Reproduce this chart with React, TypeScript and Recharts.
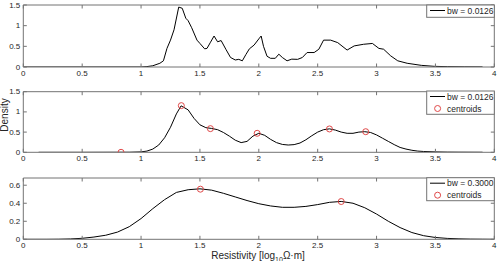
import React from 'react';
import { ComposedChart, Line, Scatter, XAxis, YAxis } from 'recharts';

// ---------- data ----------
const xTicks = [0, 0.5, 1, 1.5, 2, 2.5, 3, 3.5, 4];
const yTicksTop = [0, 0.5, 1, 1.5];
const yTicksMid = [0, 0.5, 1, 1.5];
const yTicksBot = [0, 0.2, 0.4, 0.6];

const legendTop = 'bw = 0.0126';
const legendMid = 'bw = 0.0126';
const legendBot = 'bw = 0.3000';
const centroidLabel = 'centroids';

// panel 1: raw KDE, bw = 0.0126
const kde1X = [0, 1.0, 1.05, 1.1, 1.16, 1.19, 1.22, 1.25, 1.28, 1.32, 1.35, 1.38, 1.4, 1.43, 1.475, 1.5, 1.54, 1.56, 1.59, 1.62, 1.65, 1.68, 1.72, 1.76, 1.8, 1.83, 1.86, 1.89, 1.92, 1.96, 2.0, 2.02, 2.04, 2.07, 2.1, 2.14, 2.17, 2.2, 2.24, 2.28, 2.33, 2.37, 2.41, 2.47, 2.51, 2.55, 2.61, 2.67, 2.75, 2.81, 2.89, 2.965, 3.02, 3.06, 3.12, 3.18, 3.26, 3.38, 3.49, 3.6, 3.75, 3.9];
const kde1Y = [0, 0, 0.01, 0.03, 0.09, 0.15, 0.45, 0.65, 0.9, 1.45, 1.42, 1.18, 1.12, 0.95, 0.65, 0.57, 0.44, 0.45, 0.6, 0.75, 0.61, 0.64, 0.43, 0.23, 0.17, 0.185, 0.15, 0.3, 0.44, 0.53, 0.68, 0.75, 0.5, 0.26, 0.21, 0.21, 0.31, 0.23, 0.15, 0.19, 0.185, 0.23, 0.35, 0.35, 0.43, 0.65, 0.65, 0.59, 0.41, 0.51, 0.55, 0.57, 0.45, 0.43, 0.27, 0.15, 0.09, 0.04, 0.016, 0.008, 0.004, 0.002];

// panel 2: smoothed KDE
const kde2X = [0.13, 0.5, 0.9, 1.0, 1.05, 1.1, 1.15, 1.2, 1.25, 1.3, 1.34, 1.4, 1.45, 1.5, 1.55, 1.6, 1.65, 1.7, 1.75, 1.8, 1.85, 1.9, 1.95, 2.0, 2.05, 2.1, 2.15, 2.2, 2.25, 2.3, 2.35, 2.4, 2.45, 2.5, 2.55, 2.6, 2.65, 2.7, 2.75, 2.8, 2.85, 2.9, 2.95, 3.0, 3.05, 3.1, 3.15, 3.2, 3.25, 3.3, 3.35, 3.4, 3.5, 3.6, 3.7, 3.9];
const kde2Y = [0, 0, 0.002, 0.01, 0.03, 0.08, 0.18, 0.36, 0.62, 0.95, 1.15, 1.05, 0.84, 0.68, 0.61, 0.59, 0.56, 0.49, 0.4, 0.3, 0.24, 0.27, 0.4, 0.47, 0.42, 0.32, 0.24, 0.195, 0.18, 0.19, 0.23, 0.31, 0.41, 0.5, 0.56, 0.58, 0.55, 0.5, 0.47, 0.47, 0.5, 0.51, 0.49, 0.43, 0.35, 0.27, 0.19, 0.12, 0.08, 0.05, 0.03, 0.02, 0.01, 0.005, 0.003, 0.001];
const cent2X = [0.83, 1.342, 1.589, 1.986, 2.6, 2.908];
const cent2Y = [0, 1.155, 0.586, 0.47, 0.578, 0.51];

// panel 3: wide KDE, bw = 0.3
const kde3X = [0, 0.1, 0.2, 0.3, 0.4, 0.5, 0.6, 0.7, 0.8, 0.9, 1.0, 1.1, 1.2, 1.3, 1.4, 1.5, 1.6, 1.7, 1.8, 1.9, 2.0, 2.1, 2.2, 2.3, 2.4, 2.5, 2.6, 2.7, 2.8, 2.9, 3.0, 3.1, 3.2, 3.3, 3.4, 3.5, 3.6, 3.7, 3.8, 3.9, 4.0];
const kde3Y = [0, 0, 0, 0.001, 0.004, 0.011, 0.025, 0.045, 0.08, 0.14, 0.23, 0.34, 0.44, 0.52, 0.55, 0.56, 0.545, 0.51, 0.47, 0.43, 0.395, 0.37, 0.355, 0.355, 0.365, 0.385, 0.41, 0.42, 0.4, 0.35, 0.28, 0.2, 0.13, 0.075, 0.04, 0.02, 0.01, 0.005, 0.002, 0.001, 0];
const cent3X = [1.504, 2.7];
const cent3Y = [0.556, 0.419];

const rows = (xs: number[], ys: number[]) => xs.map((x, i) => ({ x, y: ys[i] }));

// ---------- style ----------
const FONT = '"Liberation Sans", Arial, sans-serif';
const AX = '#737373';
const TXT = '#262626';
const RED = '#e04848';
const TL = 3.5;
const PL = 23.3;
const PR = 494.3;

const BottomTick = (p: any) => (
  <g>
    <line x1={p.x} y1={p.y} x2={p.x} y2={p.y - TL} stroke={AX} />
    <text x={p.x} y={p.y + 9} textAnchor="middle" fontSize={8} fill={TXT} fontFamily={FONT}>
      {String(p.payload.value)}
    </text>
  </g>
);
const TopTick = (p: any) => <line x1={p.x} y1={p.y} x2={p.x} y2={p.y + TL} stroke={AX} />;
const LeftTick = (p: any) => (
  <g>
    <line x1={p.x} y1={p.y} x2={p.x + TL} y2={p.y} stroke={AX} />
    <text x={p.x - 3} y={p.y + 2.5} textAnchor="end" fontSize={8} fill={TXT} fontFamily={FONT}>
      {String(p.payload.value)}
    </text>
  </g>
);
const RightTick = (p: any) => <line x1={p.x} y1={p.y} x2={p.x - TL} y2={p.y} stroke={AX} />;
const Circ = (p: any) => <circle cx={p.cx} cy={p.cy} r={3} fill="none" stroke={RED} strokeWidth={1} />;

type PanelProps = {
  top: number;
  height: number;
  mTop: number;
  mBottom: number;
  line: { x: number; y: number }[];
  cents?: { x: number; y: number }[];
  yMax: number;
  yTicks: number[];
};

function Panel({ top, height, mTop, mBottom, line, cents, yMax, yTicks }: PanelProps) {
  return (
    <div style={{ position: 'absolute', left: 0, top, width: 504, height }}>
      <ComposedChart width={504} height={height} margin={{ top: 0, right: 0, bottom: 0, left: 0 }}>
        <XAxis xAxisId="b" type="number" dataKey="x" domain={[0, 4]} ticks={xTicks} interval={0} height={mBottom} tickSize={0} tickMargin={0} tickLine={false} axisLine={{ stroke: AX }} tick={BottomTick} allowDataOverflow />
        <XAxis xAxisId="t" orientation="top" type="number" dataKey="x" domain={[0, 4]} ticks={xTicks} interval={0} height={mTop} tickSize={0} tickMargin={0} tickLine={false} axisLine={{ stroke: AX }} tick={TopTick} allowDataOverflow />
        <YAxis yAxisId="l" type="number" dataKey="y" domain={[0, yMax]} ticks={yTicks} interval={0} width={PL} tickSize={0} tickMargin={0} tickLine={false} axisLine={{ stroke: AX }} tick={LeftTick} allowDataOverflow />
        <YAxis yAxisId="r" orientation="right" type="number" dataKey="y" domain={[0, yMax]} ticks={yTicks} interval={0} width={504 - PR} tickSize={0} tickMargin={0} tickLine={false} axisLine={{ stroke: AX }} tick={RightTick} allowDataOverflow />
        <Line xAxisId="b" yAxisId="l" data={line} dataKey="y" type="linear" stroke="#000" strokeWidth={1} dot={false} activeDot={false} isAnimationActive={false} />
        {cents ? (
          <Scatter xAxisId="b" yAxisId="l" data={cents} dataKey="y" shape={Circ} isAnimationActive={false} />
        ) : null}
      </ComposedChart>
    </div>
  );
}

function LegendBox({ y, h, label, withCent }: { y: number; h: number; label: string; withCent: boolean }) {
  const x = 426.7;
  return (
    <g fontFamily={FONT} fontSize={8.5} fill={TXT}>
      <rect x={x} y={y} width={PR - x} height={h} fill="#fff" stroke={AX} strokeWidth={1} />
      <line x1={430} y1={y + 5.5} x2={445} y2={y + 5.5} stroke="#000" strokeWidth={1} />
      <text x={447} y={y + 8.7}>{label}</text>
      {withCent ? (
        <g>
          <circle cx={437.6} cy={y + 17.5} r={3} fill="none" stroke={RED} />
          <text x={447} y={y + 20.7}>{centroidLabel}</text>
        </g>
      ) : null}
    </g>
  );
}

export default function App() {
  return (
    <div style={{ position: 'absolute', left: 0, top: 0, width: 504, height: 261, background: '#fff', overflow: 'hidden' }}>
      <Panel top={0} height={80} mTop={5} mBottom={13} line={rows(kde1X, kde1Y)} yMax={1.5} yTicks={yTicksTop} />
      <Panel top={80} height={86} mTop={11.7} mBottom={13.7} line={rows(kde2X, kde2Y)} cents={rows(cent2X, cent2Y)} yMax={1.5} yTicks={yTicksMid} />
      <Panel top={166} height={95} mTop={12} mBottom={21.7} line={rows(kde3X, kde3Y)} cents={rows(cent3X, cent3Y)} yMax={0.68} yTicks={yTicksBot} />
      <svg width={504} height={261} style={{ position: 'absolute', left: 0, top: 0, pointerEvents: 'none' }}>
        <LegendBox y={5} h={12.3} label={legendTop} withCent={false} />
        <LegendBox y={91} h={23.3} label={legendMid} withCent={true} />
        <LegendBox y={177.7} h={23} label={legendBot} withCent={true} />
        <text transform="translate(8,115) rotate(-90)" textAnchor="middle" fontSize={10} fontFamily={FONT} fill={TXT}>Density</text>
        <text x={258} y={259} textAnchor="middle" fontSize={10} fontFamily={FONT} fill={TXT}>
          Resistivity [log<tspan fontSize={7} dy={2.5}>10</tspan><tspan dy={-2.5}>Ω·m]</tspan>
        </text>
      </svg>
    </div>
  );
}
